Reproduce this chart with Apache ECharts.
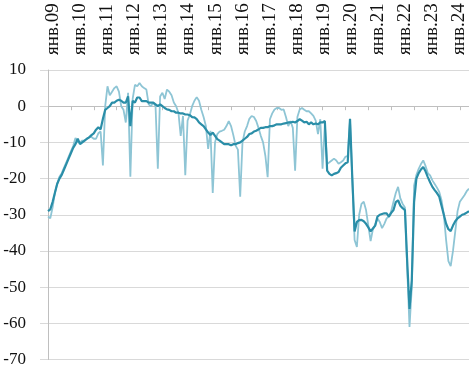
<!DOCTYPE html>
<html><head><meta charset="utf-8">
<script src="https://cdn.jsdelivr.net/npm/echarts@6/dist/echarts.min.js"></script>
<style>html,body{margin:0;padding:0;background:#fff}#c{width:469px;height:368px}</style>
</head><body><div id="c"></div>
<script>
// Month labels, Jan 2009 .. May 2024 (185 months); only January labels are shown
const monthNames = ['янв','фев','мар','апр','май','июн','июл','авг','сен','окт','ноя','дек'];
const firstYear = 2009;
const monthCount = 185;
const categories = [];
for (let i = 0; i < monthCount; i++) {
  const y = firstYear + Math.floor(i / 12);
  categories.push(monthNames[i % 12] + '.' + String(y % 100).padStart(2, '0'));
}

// Light (volatile) series
const seriesLight = [
  -30.5,-31,-28,-24,-21.5,-19.5,-18.5,-17,-15.5,-14,-12.5,-11,
  -8.8,-10,-10,-9.5,-9.5,-9,-8.6,-8.5,-9,-9,-7.5,-7,
  -16.4,0,5.5,3,4,5,5.5,4,0,-1,-4.5,3.7,
  -19.5,2,5.9,5.5,6.4,5.5,5,4.6,0.5,0,1,0,
  -17.3,2.7,3.7,2,4.6,4,3,1,0,-1.8,-8.2,-2.7,
  -19.1,-4,-2.3,0,1.5,2.5,1.5,-1,-3,-5.5,-11.8,-6.8,
  -24,-10,-7.7,-7,-6.8,-6.5,-5.5,-4.1,-5.5,-8,-10.9,-12,
  -25,-10,-7,-5.5,-3.5,-2.7,-3,-4.1,-6,-8.2,-10,-13.7,
  -19.6,-3.6,-2,-0.9,-0.5,-0.5,-1,-0.9,-3,-5.5,-4.1,-6,
  -17.8,-3,-0.9,-0.5,-1,-1.4,-1.4,-2,-2.7,-4,-7.7,-3.6,
  -17.3,-5,-16,-15.5,-15,-14.5,-15,-15.9,-15.5,-15,-14,-13.7,
  -4,-20,-37,-38.9,-30,-27,-26.4,-28.7,-33,-37.3,-34,-32.8,
  -31,-32,-33.7,-32.5,-31,-30.5,-29,-26.4,-24,-22.3,-25.5,-27,
  -28,-45,-61,-50,-22,-19,-17.3,-16,-15,-16.5,-18.5,-19.1,
  -20.5,-21.5,-22.5,-23.7,-26,-30,-37,-42.8,-44.2,-40,-34.6,-29,
  -26.4,-25.5,-24.6,-23.5,-22.8
];

// Dark (smoothed) series
const seriesDark = [
  -29,-28.5,-26.5,-24,-21.5,-20,-19,-17.5,-16,-14.5,-13,-11.5,
  -10.5,-9,-10.5,-10,-9.5,-9,-8.6,-8,-7.5,-6.5,-5.8,-6.4,
  -3.5,-1,-0.5,0,1,1,1.5,1.8,1.5,1,1,2.7,
  -5.5,1.5,1,2.4,2.4,1.4,1.4,1.4,1,1,1,0.5,
  0,0.5,0,-0.5,-0.9,-1,-1.4,-1.4,-1.8,-1.8,-2,-2,
  -2.3,-2.3,-2.5,-3,-3.1,-3.6,-4.5,-5,-5.5,-6.4,-7.3,-8,
  -7.3,-8.2,-9.1,-9.5,-10,-10.5,-10.5,-10.5,-10.8,-10.5,-10.5,-10.2,
  -10,-9.5,-9,-8.5,-7.7,-7.5,-7,-6.8,-6.4,-6,-6,-5.8,
  -5.8,-5.5,-5.5,-5.3,-5,-5,-5,-4.8,-4.7,-4.5,-4.5,-4.3,
  -4.5,-4.1,-3.6,-4,-4.5,-4.3,-5,-4.5,-5,-4.8,-5,-4.5,
  -4.5,-4.1,-17.8,-18.7,-19.1,-18.7,-18.5,-18.2,-17,-16.4,-15.8,-15.5,
  -3.5,-20,-34.6,-32,-31.5,-31.4,-31.8,-32.5,-33.5,-34.6,-33.8,-33,
  -30.5,-30,-29.8,-29.6,-29.6,-30.5,-29.5,-28.7,-26.5,-26,-27.5,-28.2,
  -28.7,-43,-56,-48,-26.5,-20,-18.5,-17.5,-16.8,-18,-19.6,-21,
  -22.3,-23.2,-24,-25,-27.5,-30,-32.5,-34,-34.5,-33,-31.8,-31,
  -30.5,-30,-29.8,-29.4,-29
];

const yMin = -70, yMax = 10, yStep = 10;
const FONT = '"Liberation Serif", "Times New Roman", serif';

const chart = echarts.init(document.getElementById('c'), null, {renderer: 'canvas'});
chart.setOption({
  animation: false,
  backgroundColor: '#ffffff',
  grid: [
    {left: 48, right: 0, top: 70, bottom: 6, containLabel: false},
    {left: 53, right: -5, top: 70, bottom: 6, containLabel: false}
  ],
  xAxis: [
    {
      type: 'category', data: categories, position: 'bottom', boundaryGap: false, gridIndex: 0,
      axisLine: {show: true, onZero: true, lineStyle: {color: '#bfbfbf', width: 1}},
      axisTick: {show: true, interval: 9, length: 4, lineStyle: {color: '#bfbfbf'}},
      axisLabel: {show: false}, splitLine: {show: false}
    },
    {
      type: 'category', data: categories, position: 'top', boundaryGap: false, gridIndex: 1,
      axisLine: {show: false}, axisTick: {show: false}, splitLine: {show: false},
      axisLabel: {interval: 11, rotate: 90, margin: 15, fontFamily: FONT, fontSize: 19, color: '#111'}
    }
  ],
  yAxis: [
    {
      type: 'value', min: yMin, max: yMax, interval: yStep, gridIndex: 0,
      axisLine: {show: true, lineStyle: {color: '#bfbfbf', width: 1}},
      axisTick: {show: true, length: 8, lineStyle: {color: '#d9d9d9'}},
      splitLine: {show: true, lineStyle: {color: '#d9d9d9', width: 1}},
      axisLabel: {margin: 22, fontFamily: FONT, fontSize: 17, color: '#111'}
    },
    {
      type: 'value', min: yMin, max: yMax, interval: yStep, gridIndex: 1, show: false
    }
  ],
  series: [
    {type: 'line', data: seriesLight, xAxisIndex: 0, yAxisIndex: 0, symbol: 'none', lineStyle: {color: '#8ec5d5', width: 1.8}, z: 2},
    {type: 'line', data: seriesDark, xAxisIndex: 0, yAxisIndex: 0, symbol: 'none', lineStyle: {color: '#2a8ea8', width: 2.2}, z: 3}
  ]
});
</script>
</body></html>
